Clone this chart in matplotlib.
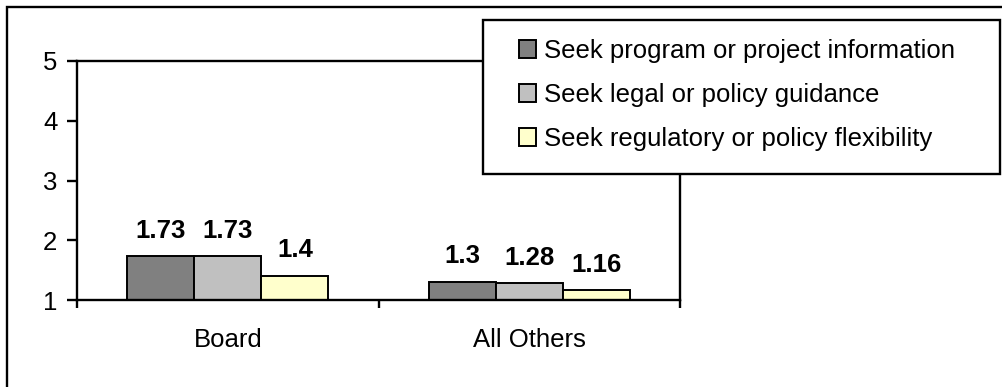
import matplotlib.pyplot as plt
import matplotlib.patches as mpatches
import numpy as np

plt.rcParams['font.family'] = ['Liberation Sans', 'DejaVu Sans']

groups = ['Board', 'All Others']
series = ['Seek program or project information',
          'Seek legal or policy guidance',
          'Seek regulatory or policy flexibility']
program_info = [1.73, 1.30]
legal_guidance = [1.73, 1.28]
regulatory_flex = [1.40, 1.16]
labels = [['1.73', '1.3'], ['1.73', '1.28'], ['1.4', '1.16']]

colors = ['#808080', '#C0C0C0', '#FFFFCC']
fs = 18.5

W, H = 1002, 387
fig = plt.figure(figsize=(W / 100, H / 100), dpi=100)

def px(x0, y0, w, h):
    # pixel box (top-left origin) -> figure fractions
    return [x0 / W, 1 - (y0 + h) / H, w / W, h / H]

# plot area
ax = fig.add_axes(px(77, 61, 603, 239))

x = np.arange(len(groups))
width = 0.2225
values = [program_info, legal_guidance, regulatory_flex]
for i, (vals, col) in enumerate(zip(values, colors)):
    bars = ax.bar(x + (i - 1) * width, vals, width, bottom=0, color=col,
                  edgecolor='black', linewidth=1.4, label=series[i], zorder=2)
    for b, v, t in zip(bars, vals, labels[i]):
        ax.annotate(t, (b.get_x() + b.get_width() / 2, v), xytext=(0, 13.5),
                    textcoords='offset points', ha='center', va='baseline',
                    fontsize=fs, fontweight='bold')

ax.set_xlim(-0.5, 1.5)
ax.set_ylim(1, 5)
ax.set_yticks([1, 2, 3, 4, 5])
ax.tick_params(axis='y', direction='out', length=7.2, width=1.7, labelsize=fs, pad=7)

# category names centred, tick marks on the boundaries
ax.set_xticks([-0.5, 0.5, 1.5])
ax.set_xticklabels([])
ax.set_xticks(x, minor=True)
ax.set_xticklabels(groups, minor=True)
ax.tick_params(axis='x', which='major', direction='out', length=6, width=1.7)
ax.tick_params(axis='x', which='minor', length=0, labelsize=fs, pad=20)

for s in ax.spines.values():
    s.set_linewidth(1.7)

# legend box, entries spread over its height
lx, ly, lw, lh = px(483, 20, 517, 154)
fig.patches.append(mpatches.Rectangle((lx, ly), lw, lh, transform=fig.transFigure,
                                      facecolor='white', edgecolor='black',
                                      linewidth=1.7, zorder=5))
handles = [mpatches.Patch(facecolor=c, edgecolor='black', linewidth=1.4) for c in colors]
leg = fig.legend(handles, series, loc='center left', bbox_to_anchor=(519 / W, 1 - 95 / H),
                 borderaxespad=0, borderpad=0, fontsize=fs, frameon=False,
                 handlelength=0.68, handleheight=0.68, handletextpad=0.3,
                 labelspacing=0.78)
leg.set_zorder(6)

# outer chart border, runs off the right and bottom edges
fig.patches.append(mpatches.Rectangle((7 / W, -20 / H), 1100 / W, (387 - 7 + 20) / H,
                                      transform=fig.transFigure, fill=False,
                                      edgecolor='black', linewidth=1.7))

fig.savefig('out.png', dpi=100)
